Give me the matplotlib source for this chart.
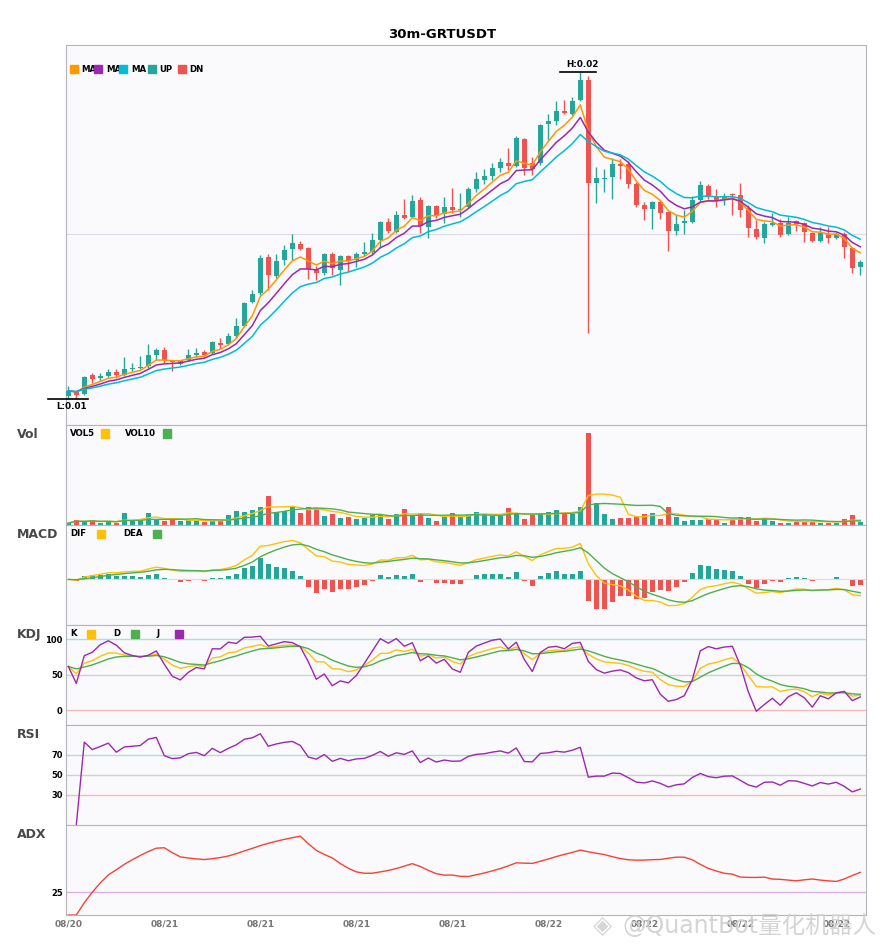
import numpy as np
import pandas as pd
import matplotlib
matplotlib.use('Agg')
import matplotlib.pyplot as plt
from matplotlib.patches import Rectangle

plt.rcParams['font.family'] = ['DejaVu Sans', 'Noto Sans CJK SC']

# ---- data (prices in 1e-5 USDT, 30m candles) ----
title = '30m-GRTUSDT'
tick_idx = [0, 12, 24, 36, 48, 60, 72, 84, 96]
tick_lab = ['08/20', '08/21', '08/21', '08/21', '08/21', '08/22', '08/22', '08/22', '08/22']

open_ = np.array([1204, 1212, 1208, 1246, 1240, 1244, 1252, 1246, 1258, 1260,
                  1264, 1286, 1296, 1274, 1268, 1276, 1286, 1292, 1290, 1310,
                  1308, 1324, 1344, 1392, 1410, 1482, 1444, 1476, 1498, 1508,
                  1500, 1456, 1450, 1488, 1456, 1484, 1476, 1488, 1492, 1516,
                  1552, 1532, 1566, 1562, 1596, 1542, 1584, 1568, 1582, 1576,
                  1582, 1618, 1636, 1644, 1660, 1670, 1664, 1718, 1670, 1670,
                  1748, 1754, 1774, 1768, 1796, 1836, 1630, 1638, 1642, 1668,
                  1668, 1628, 1586, 1578, 1592, 1572, 1534, 1550, 1552, 1596,
                  1624, 1602, 1596, 1608, 1606, 1580, 1538, 1520, 1546, 1550,
                  1528, 1554, 1550, 1530, 1514, 1528, 1520, 1528, 1500, 1462]) / 1e5
close = np.array([1214, 1206, 1242, 1238, 1244, 1252, 1246, 1258, 1260, 1262,
                  1286, 1296, 1276, 1272, 1274, 1286, 1290, 1286, 1312, 1306,
                  1324, 1344, 1390, 1408, 1480, 1446, 1474, 1496, 1510, 1498,
                  1458, 1450, 1488, 1460, 1484, 1474, 1488, 1492, 1516, 1552,
                  1534, 1566, 1560, 1594, 1544, 1584, 1564, 1582, 1576, 1578,
                  1618, 1638, 1644, 1660, 1672, 1664, 1720, 1660, 1658, 1746,
                  1754, 1774, 1770, 1794, 1836, 1630, 1640, 1640, 1668, 1664,
                  1628, 1586, 1578, 1592, 1570, 1534, 1548, 1554, 1596, 1626,
                  1602, 1594, 1604, 1606, 1576, 1540, 1522, 1548, 1550, 1526,
                  1550, 1548, 1532, 1514, 1530, 1520, 1528, 1502, 1460, 1472]) / 1e5
high = np.array([1224, 1214, 1244, 1250, 1250, 1258, 1258, 1282, 1270, 1284,
                 1308, 1300, 1302, 1276, 1276, 1298, 1300, 1296, 1314, 1320,
                 1330, 1360, 1392, 1416, 1486, 1488, 1488, 1506, 1528, 1514,
                 1502, 1464, 1490, 1492, 1486, 1486, 1492, 1512, 1530, 1554,
                 1560, 1574, 1598, 1606, 1602, 1586, 1586, 1602, 1620, 1610,
                 1622, 1652, 1658, 1670, 1680, 1700, 1724, 1720, 1682, 1748,
                 1768, 1794, 1796, 1802, 1852, 1844, 1662, 1658, 1680, 1678,
                 1674, 1632, 1592, 1594, 1596, 1574, 1566, 1576, 1604, 1634,
                 1628, 1618, 1610, 1610, 1630, 1586, 1556, 1552, 1570, 1558,
                 1562, 1556, 1552, 1532, 1542, 1542, 1532, 1532, 1502, 1476]) / 1e5
low = np.array([1198, 1200, 1206, 1230, 1234, 1242, 1240, 1244, 1254, 1258,
                1260, 1276, 1270, 1254, 1266, 1274, 1282, 1282, 1288, 1298,
                1306, 1320, 1342, 1390, 1406, 1416, 1440, 1466, 1476, 1496,
                1438, 1436, 1446, 1446, 1426, 1454, 1462, 1484, 1488, 1500,
                1530, 1530, 1558, 1560, 1530, 1520, 1560, 1550, 1570, 1562,
                1580, 1612, 1628, 1636, 1652, 1656, 1662, 1646, 1646, 1666,
                1716, 1746, 1768, 1766, 1794, 1330, 1590, 1612, 1598, 1638,
                1620, 1582, 1556, 1538, 1558, 1494, 1526, 1528, 1550, 1594,
                1598, 1582, 1586, 1566, 1562, 1522, 1518, 1510, 1544, 1522,
                1526, 1534, 1512, 1512, 1512, 1510, 1518, 1480, 1450, 1446]) / 1e5
volume = np.array([6, 16, 11, 16, 5, 11, 5, 35, 16, 15,
                   37, 16, 11, 16, 11, 16, 16, 8, 11, 11,
                   31, 43, 40, 46, 55, 88, 40, 43, 53, 37,
                   55, 51, 28, 32, 22, 25, 19, 20, 31, 34,
                   19, 34, 49, 28, 37, 22, 13, 26, 37, 28,
                   30, 40, 33, 28, 28, 52, 37, 19, 30, 33,
                   40, 46, 33, 33, 55, 274, 67, 32, 19, 22,
                   22, 28, 34, 37, 19, 55, 23, 13, 16, 16,
                   19, 19, 7, 19, 25, 25, 13, 19, 13, 7,
                   7, 10, 13, 13, 7, 7, 7, 19, 31, 10]) * 1000.0

UP = '#26a69a'
DN = '#ef5350'

n = len(close)
x = np.arange(n)
c = pd.Series(close)
h = pd.Series(high)
l = pd.Series(low)
v = pd.Series(volume)

# ---- indicators ----
ma1 = c.ewm(span=5, adjust=False).mean()
ma2 = c.ewm(span=8, adjust=False).mean()
ma3 = c.ewm(span=13, adjust=False).mean()

vol5 = v.rolling(5, min_periods=1).mean()
vol10 = v.rolling(10, min_periods=1).mean()

dif = c.ewm(span=6, adjust=False).mean() - c.ewm(span=13, adjust=False).mean()
dea = dif.ewm(span=5, adjust=False).mean()
hist = 2 * (dif - dea)

ll = l.rolling(9, min_periods=1).min()
hh = h.rolling(9, min_periods=1).max()
rsv = (c - ll) / (hh - ll) * 100
k = rsv.ewm(com=2, adjust=False).mean()
d = k.ewm(com=2, adjust=False).mean()
j = 3 * k - 2 * d

diff = c.diff()
gain = diff.clip(lower=0).ewm(alpha=1 / 14, adjust=True).mean()
loss = (-diff).clip(lower=0).ewm(alpha=1 / 14, adjust=True).mean()
rsi = 100 * gain / (gain + loss)

up_move = h.diff()
dn_move = -l.diff()
pdm = pd.Series(np.where((up_move > dn_move) & (up_move > 0), up_move, 0.0))
mdm = pd.Series(np.where((dn_move > up_move) & (dn_move > 0), dn_move, 0.0))
tr = pd.concat([h - l, (h - c.shift()).abs(), (l - c.shift()).abs()], axis=1).max(axis=1)
atr = tr.ewm(span=14, adjust=False).mean()
pdi = 100 * pdm.ewm(span=14, adjust=False).mean() / atr
mdi = 100 * mdm.ewm(span=14, adjust=False).mean() / atr
dx = (100 * (pdi - mdi).abs() / (pdi + mdi)).fillna(0)
adx = dx.ewm(span=14, adjust=False).mean()

# ---- layout ----
W, H = 885, 950
fig = plt.figure(figsize=(W / 100, H / 100), dpi=100)


def rect(top, bottom):
    return [65.5 / W, 1 - bottom / H, 800 / W, (bottom - top) / H]


ax_main = fig.add_axes(rect(45, 425))
ax_vol = fig.add_axes(rect(425, 525))
ax_macd = fig.add_axes(rect(525, 625))
ax_kdj = fig.add_axes(rect(625, 725))
ax_rsi = fig.add_axes(rect(725, 825))
ax_adx = fig.add_axes(rect(825, 915))
axes = [ax_main, ax_vol, ax_macd, ax_kdj, ax_rsi, ax_adx]

for ax in axes:
    ax.set_facecolor('#fafafc')
    ax.set_xlim(-0.35, n - 0.35)
    for s in ax.spines.values():
        s.set_color('#b4b4bc')
    ax.tick_params(length=0, labelsize=6, pad=2)
    ax.set_xticks(tick_idx)
    ax.set_xticklabels([])
    ax.set_yticks([])

# main candles
is_up = close >= open_
cols = np.where(is_up, UP, DN)
ax_main.vlines(x, low, high, colors=cols, lw=1, zorder=2)
ax_main.bar(x, np.maximum(np.abs(close - open_), 1e-5), bottom=np.minimum(open_, close),
            width=0.7, color=cols, zorder=3)
ax_main.plot(x, ma1, color='#ff9800', lw=1.1, zorder=4)
ax_main.plot(x, ma2, color='#9c27b0', lw=1.1, zorder=4)
ax_main.plot(x, ma3, color='#00bcd4', lw=1.1, zorder=4)
rng = high.max() - low.min()
ax_main.set_ylim(low.min() - 0.08 * rng, high.max() + 0.083 * rng)
ax_main.set_yticks([0.01528])
ax_main.set_yticklabels([])
ax_main.grid(axis='y', color='#dcdce8', lw=0.8)
ax_main.set_axisbelow(True)

ih = int(np.argmax(high))
il = int(np.argmin(low))
ax_main.plot([ih - 2.5, ih + 2.0], [high[ih]] * 2, color='black', lw=1.2, clip_on=False, zorder=5)
ax_main.annotate(f'H:{high[ih]:.2f}', (ih + 0.3, high[ih]), xytext=(0, 2), textcoords='offset points',
                 ha='center', va='bottom', fontsize=6.3, fontweight='bold', annotation_clip=False)
ax_main.plot([il - 2.5, il + 2.5], [low[il]] * 2, color='black', lw=1.2, clip_on=False, zorder=5)
ax_main.annotate(f'L:{low[il]:.2f}', (il + 0.4, low[il]), xytext=(0, -2), textcoords='offset points',
                 ha='center', va='top', fontsize=6.3, fontweight='bold', annotation_clip=False)

# volume
ax_vol.bar(x, volume, width=0.68, color=cols)
ax_vol.plot(x, vol5, color='#ffc107', lw=1)
ax_vol.plot(x, vol10, color='#4caf50', lw=1)
ax_vol.set_ylim(0, volume.max() * 1.09)

# macd
ax_macd.axhline(0, color='#dcdcdc', lw=0.8)
ax_macd.bar(x, hist, width=0.7, color=np.where(hist >= 0, UP, DN))
ax_macd.plot(x, dif, color='#ffc107', lw=1)
ax_macd.plot(x, dea, color='#4caf50', lw=1)
lo = min(dif.min(), dea.min(), hist.min())
hi = max(dif.max(), dea.max(), hist.max())
ax_macd.set_ylim(lo - 0.225 * (hi - lo), hi + 0.225 * (hi - lo))

# kdj
ax_kdj.axhline(100, color='#b2dcd8', lw=1)
ax_kdj.axhline(50, color='#d0d0d0', lw=1)
ax_kdj.axhline(0, color='#f7b9b9', lw=1)
ax_kdj.plot(x, k, color='#ffc107', lw=1)
ax_kdj.plot(x, d, color='#4caf50', lw=1)
ax_kdj.plot(x, j, color='#9c27b0', lw=1)
ax_kdj.set_ylim(-21, 120)
ax_kdj.set_yticks([0, 50, 100])

# rsi
ax_rsi.axhline(70, color='#b2dcd8', lw=1)
ax_rsi.axhline(50, color='#d0d0d0', lw=1)
ax_rsi.axhline(30, color='#f7b9b9', lw=1)
ax_rsi.plot(x, rsi, color='#9c27b0', lw=1)
ax_rsi.set_ylim(0, 100)
ax_rsi.set_yticks([30, 50, 70])

# adx
ax_adx.axhline(25, color='#dcb0e4', lw=1)
ax_adx.plot(x, adx, color='#f44336', lw=1)
ax_adx.set_ylim(0, 98)
ax_adx.set_yticks([25])
ax_adx.set_xticklabels(tick_lab)

for ax in [ax_kdj, ax_rsi, ax_adx]:
    for t in ax.get_yticklabels():
        t.set_fontweight('bold')
for t in ax_adx.get_xticklabels():
    t.set_fontweight('bold')
    t.set_color('#777777')
    t.set_fontsize(6.5)
ax_adx.tick_params(axis='x', pad=3)

# ---- texts and legends ----
fig.text(0.5, 1 - 34 / H, title, ha='center', va='center', fontsize=9.5, fontweight='bold')

for lab, yy in [('Vol', 434.5), ('MACD', 534.5), ('KDJ', 634.5), ('RSI', 734.5), ('ADX', 834.5)]:
    fig.text(17 / W, 1 - yy / H, lab, ha='left', va='center', fontsize=9,
             fontweight='bold', color='#484848')


def square(xp, yp, color, size=8):
    fig.add_artist(Rectangle((xp / W, 1 - (yp + size / 2) / H), size / W, size / H,
                             transform=fig.transFigure, color=color, zorder=6))


def label(xp, yp, s):
    fig.text(xp / W, 1 - yp / H, s, ha='left', va='center', fontsize=6.2,
             fontweight='bold', zorder=5)


for sx, tx, col, s in [(70, 81, '#ff9800', 'MA'), (94, 106, '#9c27b0', 'MA'),
                       (119, 131, '#00bcd4', 'MA'), (148, 159, UP, 'UP'), (178, 189, DN, 'DN')]:
    square(sx, 69, col)
    label(tx, 69, s)

for tx, sx, col, s, yy in [(70, 101, '#ffc107', 'VOL5', 433.5), (125, 163, '#4caf50', 'VOL10', 433.5),
                           (70, 97, '#ffc107', 'DIF', 533.5), (123, 153, '#4caf50', 'DEA', 533.5),
                           (70, 87, '#ffc107', 'K', 633.5), (113, 131, '#4caf50', 'D', 633.5),
                           (157, 175, '#9c27b0', 'J', 633.5)]:
    label(tx, yy, s)
    square(sx, yy, col)

# watermark
fig.text(603 / W, 1 - 926 / H, '◈', ha='center', va='center', fontsize=18,
         color='#d6d6d6', zorder=10)
fig.text(622 / W, 1 - 926 / H, '@QuantBot量化机器人', ha='left', va='center',
         fontsize=17, color='#d0d0d0', alpha=0.9, zorder=10)

fig.savefig('out.png', dpi=100, facecolor='white')
